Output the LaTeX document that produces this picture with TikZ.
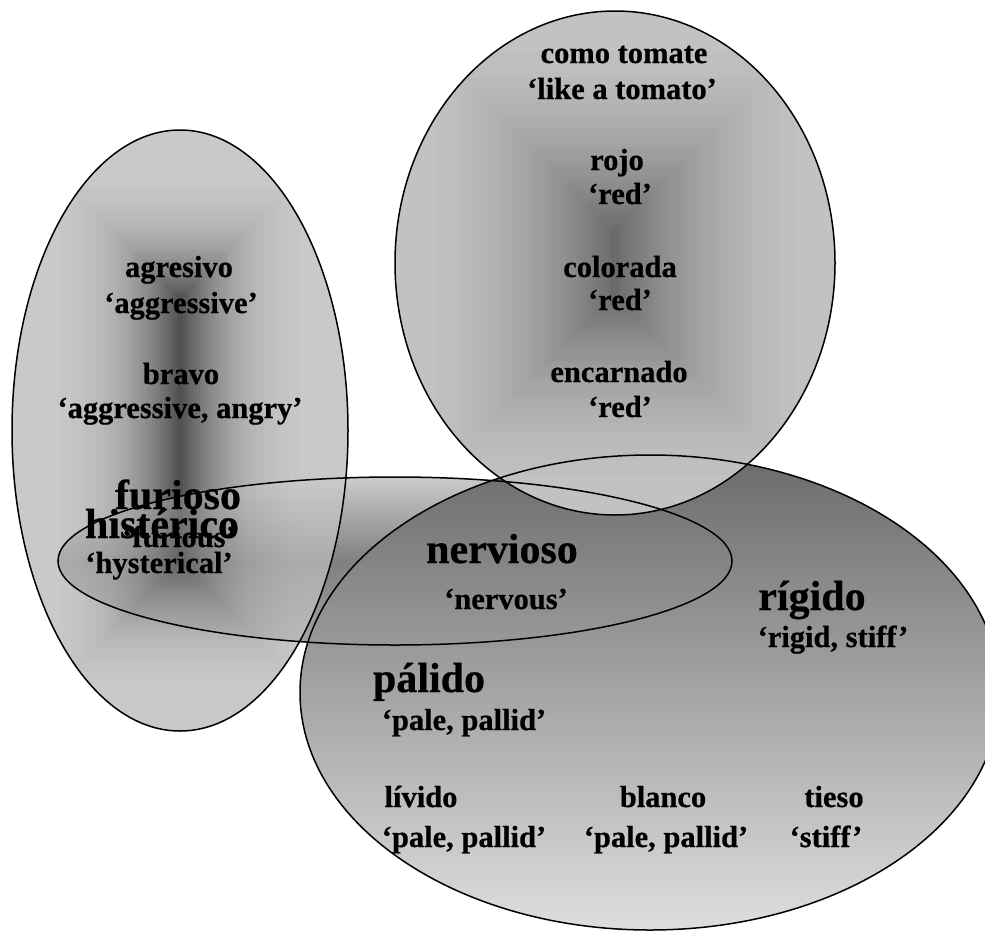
\documentclass[tikz,border=0pt]{standalone}
\usepackage{fontspec}
\setmainfont[BoldFeatures={FakeBold=0.6}]{Liberation Serif}
\begin{document}
\begin{tikzpicture}[x=1pt,y=-1pt,
  sm/.style={font=\bfseries\fontsize{30.5}{35}\selectfont, anchor=base, inner sep=0pt},
  bg/.style={font=\bfseries\fontsize{42}{48}\selectfont, anchor=base, inner sep=0pt},
  outl/.style={draw=black, line width=1.5pt},
  hshade/.style={top color=black!20!white, bottom color=black!36!white, middle color=black!50!white},
  bshade/.style={top color=black!58!white, bottom color=black!13!white}]
\useasboundingbox (0,0) rectangle (985,932);
\clip (0,0) rectangle (985,932);
% horizontal ellipse fill
\shade[hshade] (395,561) ellipse [x radius=337, y radius=84];
% big ellipse fill
\shade[bshade] (650,692.5) ellipse [x radius=350, y radius=237.5];
% left tall ellipse: rectangular gradient
\begin{scope}
  \clip (180,430.5) ellipse [x radius=168, y radius=300.5];
  \foreach \i in {0,...,59}{
    \pgfmathsetmacro{\dd}{\i*168/60}
    \pgfmathtruncatemacro{\cc}{21+47*(\i/59)*(\i/59)*(\i/59)}
    \fill[black!\cc!white] ({12+\dd},{130+\dd}) rectangle ({348-\dd},{731-\dd});
  }
  \shade[hshade, fill opacity=0.4] (395,561) ellipse [x radius=337, y radius=84];
\end{scope}
% top ellipse: rectangular gradient
\begin{scope}
  \clip (615,263) ellipse [x radius=220, y radius=252];
  \foreach \i in {0,...,59}{
    \pgfmathsetmacro{\dd}{\i*220/60}
    \pgfmathtruncatemacro{\cc}{24+34*(\i/59)*(\i/59)}
    \fill[black!\cc!white] ({395+\dd},{11+\dd}) rectangle ({835-\dd},{515-\dd});
  }
\end{scope}
% outlines
\draw[outl] (395,561) ellipse [x radius=337, y radius=84];
\draw[outl] (650,692.5) ellipse [x radius=350, y radius=237.5];
\draw[outl] (180,430.5) ellipse [x radius=168, y radius=300.5];
\draw[outl] (615,263) ellipse [x radius=220, y radius=252];
% top ellipse texts
\node[sm] (t1) at (624,63) {como tomate};
\node[sm] (t2) at (622,99) {`like a tomato'};
\node[sm] (t3) at (617,170) {rojo};
\node[sm] (t4) at (620,204) {`red'};
\node[sm] (t5) at (620,277) {colorada};
\node[sm] (t6) at (620,310) {`red'};
\node[sm] (t7) at (619,382) {encarnado};
\node[sm] (t8) at (620,417) {`red'};
% left ellipse texts
\node[sm] (l1) at (179,277) {agresivo};
\node[sm] (l2) at (181,313) {`aggressive'};
\node[sm] (l3) at (181,384) {bravo};
\node[sm] (l4) at (180,418) {`aggressive, angry'};
\node[bg] (l5) at (178,509) {furioso};
\node[sm] (l6) at (179,547) {`furious'};
\node[bg] (l7) at (162,538) {histérico};
\node[sm] (l8) at (159,573) {`hysterical'};
% lower texts
\node[bg] (b1) at (502,563) {nervioso};
\node[sm] (b2) at (506,609) {`nervous'};
\node[bg] (b3) at (812,610) {rígido};
\node[sm] (b4) at (833,647) {`rigid, stiff'};
\node[bg] (b5) at (429,692) {pálido};
\node[sm] (b6) at (464,730) {`pale, pallid'};
\node[sm] (b7) at (421,807) {lívido};
\node[sm] (b8) at (464,847) {`pale, pallid'};
\node[sm] (b9) at (663,807) {blanco};
\node[sm] (b10) at (666,847) {`pale, pallid'};
\node[sm] (b11) at (834,807) {tieso};
\node[sm] (b12) at (826,847) {`stiff'};
\end{tikzpicture}
\end{document}
